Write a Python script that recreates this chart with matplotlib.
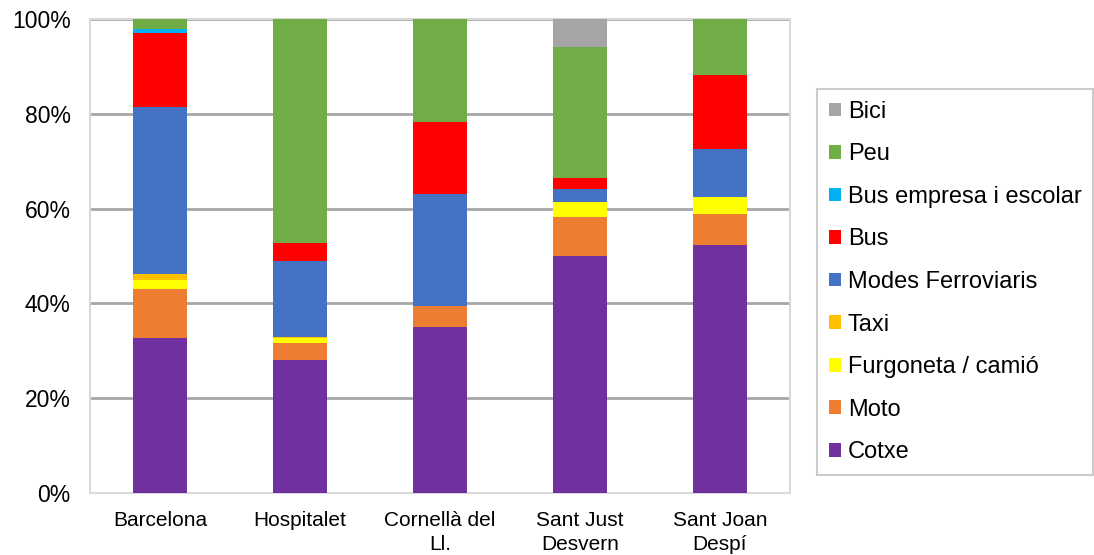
import matplotlib
matplotlib.use("Agg")
import matplotlib.pyplot as plt
from matplotlib.patches import Patch
from matplotlib.ticker import PercentFormatter
import numpy as np

plt.rcParams['font.family'] = ['Liberation Sans', 'DejaVu Sans']

municipis = ["Barcelona", "Hospitalet", "Cornellà del\nLl.", "Sant Just\nDesvern", "Sant Joan\nDespí"]

# Repartiment modal (%) per municipi, de baix a dalt
cotxe = [32.8, 28.0, 35.0, 49.9, 52.3]
moto = [10.2, 3.7, 4.5, 8.3, 6.5]
furgoneta = [1.9, 0.9, 0.0, 3.2, 3.6]
taxi = [1.4, 0.3, 0.0, 0.0, 0.0]
ferroviaris = [35.2, 16.1, 23.5, 2.8, 10.2]
bus = [15.5, 3.7, 15.2, 2.3, 15.5]
bus_empresa = [0.8, 0.0, 0.0, 0.0, 0.0]
peu = [2.2, 47.3, 21.8, 27.5, 11.9]
bici = [0.0, 0.0, 0.0, 6.0, 0.0]

series = [
    ("Cotxe", cotxe, "#7030A0"),
    ("Moto", moto, "#ED7D31"),
    ("Furgoneta / camió", furgoneta, "#FFFF00"),
    ("Taxi", taxi, "#FFC000"),
    ("Modes Ferroviaris", ferroviaris, "#4472C4"),
    ("Bus", bus, "#FF0000"),
    ("Bus empresa i escolar", bus_empresa, "#00B0F0"),
    ("Peu", peu, "#70AD47"),
    ("Bici", bici, "#A5A5A5"),
]

fig = plt.figure(figsize=(10.94, 5.55), dpi=100)
ax = fig.add_axes([90 / 1094, 62 / 555, 700 / 1094, 474 / 555])

x = np.arange(len(municipis))
bottom = np.zeros(len(municipis))
for name, vals, color in series:
    v = np.array(vals, dtype=float)
    ax.bar(x, v, bottom=bottom, width=0.39, color=color, linewidth=0, zorder=3)
    bottom += v

ax.set_xlim(-0.5, len(municipis) - 0.5)
ax.set_ylim(0, 100)
ax.set_yticks(np.arange(0, 101, 20))
ax.yaxis.set_major_formatter(PercentFormatter(decimals=0))
ax.set_xticks(x)
ax.set_xticklabels(municipis, fontsize=15, linespacing=1.32)
ax.tick_params(axis='y', labelsize=16.5, length=0, pad=14)
ax.tick_params(axis='x', length=0, pad=13)
ax.grid(axis='y', color='#A6A6A6', linewidth=2, zorder=0)
for s in ax.spines.values():
    s.set_color('#D9D9D9')
    s.set_linewidth(1.5)

handles = [Patch(facecolor=c, edgecolor='none', label=n) for n, _, c in reversed(series)]
leg = fig.legend(handles=handles, loc='upper left', bbox_to_anchor=(817 / 1094, 1 - 89 / 555),
                 fontsize=17, frameon=True, fancybox=False, borderaxespad=0,
                 handlelength=0.52, handleheight=0.52, handletextpad=0.28,
                 labelspacing=0.87, borderpad=0.5)
leg.get_frame().set_edgecolor('#BFBFBF')
leg.get_frame().set_linewidth(1.5)

fig.savefig("out.png", dpi=100)
